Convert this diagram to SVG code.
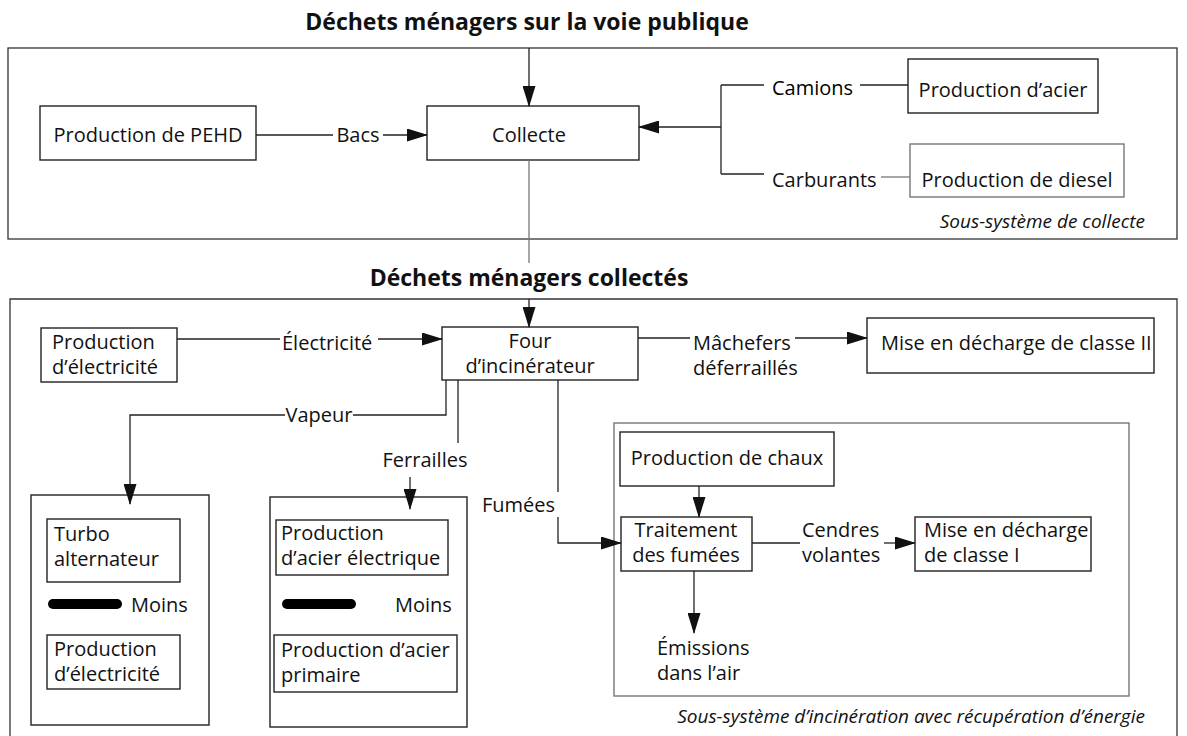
<svg xmlns="http://www.w3.org/2000/svg" width="1187" height="736" viewBox="0 0 1187 736">
<defs>
<marker id="arr" markerUnits="userSpaceOnUse" markerWidth="21" markerHeight="13" refX="20" refY="6.5" orient="auto">
<path d="M0,0 L21,6.5 L0,13 z" fill="#111"/>
</marker>
<style>
text{font-family:"Open Sans","Liberation Sans",sans-serif;font-size:20px;fill:#111}
.title{font-weight:bold;font-size:23px;text-anchor:middle}
.it{font-style:italic;font-size:19px}
.c{text-anchor:middle}
.box{fill:#fff;stroke:#222;stroke-width:1.4}
.gbox{fill:#fff;stroke:#777;stroke-width:1.4}
.frame{fill:none;stroke:#333;stroke-width:1.3}
.ln{fill:none;stroke:#222;stroke-width:1.3}
.gl{fill:none;stroke:#777;stroke-width:1.3}
.bar{fill:#000}
</style>
</defs>
<rect width="1187" height="736" fill="#fff"/>

<!-- frames -->
<g id="frame-collecte">
<rect class="frame" x="8" y="48" width="1169" height="191"/>
<text class="it" x="1145" y="228" text-anchor="end">Sous-système de collecte</text>
</g>
<g id="frame-incineration">
<path class="frame" d="M10,736 V299 H1177 V736"/>
<text class="it" x="1145" y="723" text-anchor="end">Sous-système d’incinération avec récupération d’énergie</text>
</g>
<g id="frame-traitement"><rect class="gbox" x="614" y="423" width="515" height="273"/></g>

<!-- titles -->
<text id="title-voie" class="title" x="527" y="30">Déchets ménagers sur la voie publique</text>
<text id="title-collectes" class="title" x="529" y="286">Déchets ménagers collectés</text>

<!-- collecte subsystem nodes -->
<g id="n-pehd"><rect class="box" x="40" y="106" width="216" height="54"/><text x="148" y="142" class="c">Production de PEHD</text></g>
<g id="n-collecte"><rect class="box" x="427" y="106" width="212" height="54"/><text x="529" y="142" class="c">Collecte</text></g>
<g id="n-acier"><rect class="box" x="908" y="59" width="190" height="54"/><text x="1003" y="97" class="c">Production d’acier</text></g>
<g id="n-diesel"><rect class="gbox" x="910" y="144" width="214" height="53"/><text x="1017" y="187" class="c">Production de diesel</text></g>

<!-- incineration subsystem nodes -->
<g id="n-elec"><rect class="box" x="41" y="328" width="136" height="54"/><text x="52" y="349">Production</text><text x="52" y="374">d’électricité</text></g>
<g id="n-four"><rect class="box" x="442" y="327" width="196" height="53"/><text x="530" y="348" class="c">Four</text><text x="530" y="373" class="c">d’incinérateur</text></g>
<g id="n-classe2"><rect class="box" x="867" y="318" width="287" height="55"/><text x="881" y="350">Mise en décharge de classe II</text></g>

<g id="n-turbo-group">
<rect class="box" x="31" y="495" width="178" height="230"/>
<rect class="box" x="47" y="519" width="133" height="63"/>
<text x="54" y="541">Turbo</text><text x="54" y="566">alternateur</text>
<rect class="bar" x="48" y="599" width="74" height="10" rx="5"/>
<text x="131" y="612">Moins</text>
<rect class="box" x="47" y="635" width="133" height="54"/>
<text x="54" y="656">Production</text><text x="54" y="681">d’électricité</text>
</g>

<g id="n-acier-group">
<rect class="box" x="270" y="497" width="197" height="230"/>
<rect class="box" x="276" y="520" width="172" height="55"/>
<text x="281" y="540">Production</text><text x="281" y="565">d’acier électrique</text>
<rect class="bar" x="282" y="599" width="74" height="10" rx="5"/>
<text x="395" y="612">Moins</text>
<rect class="box" x="274" y="635" width="183" height="57"/>
<text x="281" y="657">Production d’acier</text><text x="281" y="682">primaire</text>
</g>

<g id="n-chaux"><rect class="box" x="620" y="432" width="214" height="54"/><text x="727" y="465" class="c">Production de chaux</text></g>
<g id="n-traitement"><rect class="box" x="621" y="517" width="131" height="54"/><text x="686" y="537" class="c">Traitement</text><text x="686" y="562" class="c">des fumées</text></g>
<g id="n-classe1"><rect class="box" x="915" y="517" width="176" height="54"/><text x="924" y="537">Mise en décharge</text><text x="924" y="562">de classe I</text></g>

<!-- connectors -->
<g id="connectors">
<line class="ln" x1="529" y1="48" x2="529" y2="106" marker-end="url(#arr)"/>
<line class="ln" x1="256" y1="135" x2="333" y2="135"/>
<text x="358" y="142" class="c">Bacs</text>
<line class="ln" x1="383" y1="135" x2="427" y2="135" marker-end="url(#arr)"/>
<path class="ln" d="M721,85 V174"/>
<line class="ln" x1="721" y1="127" x2="639" y2="127" marker-end="url(#arr)"/>
<line class="ln" x1="721" y1="85" x2="764" y2="85"/>
<text x="772" y="95" style="fill:#000">Camions</text>
<line class="ln" x1="860" y1="85" x2="908" y2="85"/>
<line class="ln" x1="721" y1="174" x2="764" y2="174"/>
<text x="772" y="187">Carburants</text>
<line class="gl" x1="881" y1="177" x2="910" y2="177"/>
<line class="gl" x1="529" y1="160" x2="529" y2="263"/>
<line class="ln" x1="529" y1="299" x2="529" y2="327" marker-end="url(#arr)"/>
<line class="ln" x1="177" y1="339" x2="280" y2="339"/>
<text x="282" y="350">Électricité</text>
<line class="ln" x1="378" y1="339" x2="442" y2="339" marker-end="url(#arr)"/>
<line class="ln" x1="638" y1="338" x2="690" y2="338"/>
<text x="693" y="350">Mâchefers</text>
<text x="693" y="375">déferraillés</text>
<line class="ln" x1="795" y1="338" x2="867" y2="338" marker-end="url(#arr)"/>
<path class="ln" d="M446,380 V415 H353"/>
<text x="319" y="422" class="c">Vapeur</text>
<path class="ln" d="M285,415 H130 V504" marker-end="url(#arr)"/>
<line class="ln" x1="458" y1="380" x2="458" y2="443"/>
<text x="425" y="467" class="c">Ferrailles</text>
<line class="ln" x1="410" y1="477" x2="410" y2="509" marker-end="url(#arr)"/>
<line class="ln" x1="558" y1="380" x2="558" y2="492"/>
<text x="555" y="512" text-anchor="end">Fumées</text>
<path class="ln" d="M558,517 V543 H621" marker-end="url(#arr)"/>
<line class="ln" x1="699" y1="486" x2="699" y2="517" marker-end="url(#arr)"/>
<line class="ln" x1="752" y1="543" x2="800" y2="543"/>
<text x="802" y="537">Cendres</text>
<text x="802" y="562">volantes</text>
<line class="ln" x1="884" y1="543" x2="915" y2="543" marker-end="url(#arr)"/>
<line class="ln" x1="694" y1="571" x2="694" y2="633" marker-end="url(#arr)"/>
<text x="657" y="655">Émissions</text>
<text x="657" y="680">dans l’air</text>
</g>
</svg>
